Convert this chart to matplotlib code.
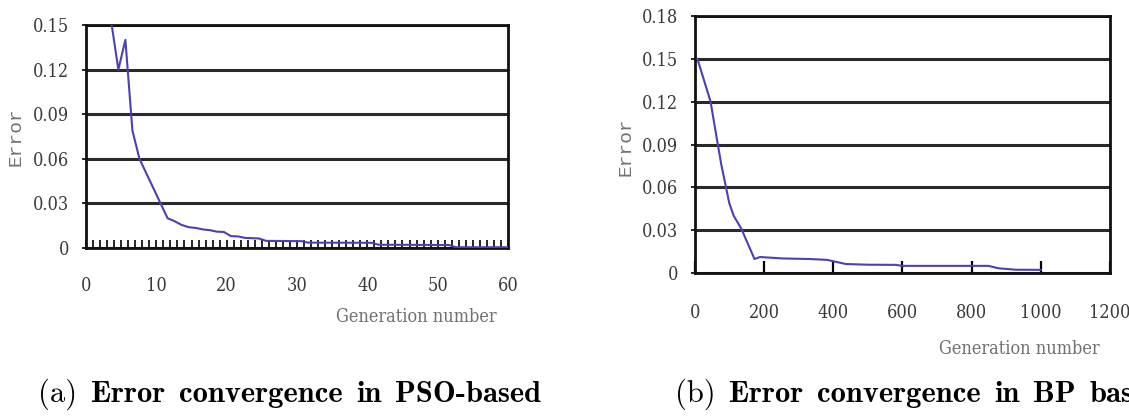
import matplotlib
matplotlib.use("Agg")
import matplotlib.pyplot as plt
from matplotlib.ticker import MultipleLocator

# ---- data ----
pso_gen = [3.5, 4.6, 5.6, 6.6, 7.6, 8.6, 9.6, 10.6, 11.6, 12.6, 13.6, 14.6, 15.6, 16.6,
           17.6, 18.6, 19.6, 20.6, 21.6, 22.6, 23.6, 24.6, 25.6, 30.6, 31.6, 40.6, 41.6,
           51.6, 52.6, 60.0]
pso_err = [0.155, 0.120, 0.140, 0.079, 0.060, 0.050, 0.040, 0.030, 0.020, 0.018, 0.0155,
           0.014, 0.0135, 0.0125, 0.012, 0.011, 0.0108, 0.008, 0.0078, 0.0068, 0.0066,
           0.0064, 0.0048, 0.0046, 0.0036, 0.0035, 0.0022, 0.0020, 0.0005, 0.0005]

bp_gen = [7, 45, 66, 76, 99, 112, 134, 172, 188, 253, 330, 382, 436, 500, 580, 600,
          848, 878, 928, 1000]
bp_err = [0.150, 0.120, 0.090, 0.076, 0.049, 0.040, 0.031, 0.0098, 0.0112, 0.0102,
          0.0098, 0.0092, 0.0063, 0.0058, 0.0057, 0.0050, 0.0050, 0.0033, 0.0023, 0.0022]

pso_yticks = [0, 0.03, 0.06, 0.09, 0.12, 0.15]
pso_ylabels = ["0", "0.03", "0.06", "0.09", "0.12", "0.15"]
pso_xticks = [0, 10, 20, 30, 40, 50, 60]
bp_yticks = [0, 0.03, 0.06, 0.09, 0.12, 0.15, 0.18]
bp_ylabels = ["0", "0.03", "0.06", "0.09", "0.12", "0.15", "0.18"]
bp_xticks = [0, 200, 400, 600, 800, 1000, 1200]

caption_a = ["(a)", "Error", "convergence", "in", "PSO-based"]
caption_b = ["(b)", "Error", "convergence", "in", "BP", "based"]
ylabel_text = "Error"
xlabel_text = "Generation number"

W, H = 1129, 416
fig = plt.figure(figsize=(W / 100, H / 100), dpi=100)

line_color = "#4a40b8"
tick_font = dict(family="DejaVu Serif", stretch="condensed", size=13, color="#3a3a3a")


def make_axes(rect, xs, ys, xlim, ylim, yticks, ylabels, xticks):
    ax = fig.add_axes(rect)
    ax.plot(xs, ys, color=line_color, lw=1.5, zorder=3)
    ax.set_xlim(*xlim)
    ax.set_ylim(*ylim)
    ax.set_yticks(yticks)
    ax.set_yticklabels(ylabels, **tick_font)
    ax.set_xticks(xticks)
    ax.set_xticklabels([str(t) for t in xticks], **tick_font)
    for s in ax.spines.values():
        s.set_linewidth(2)
        s.set_color("#111111")
    ax.yaxis.grid(True, color="#2a2a2a", lw=2.2)
    ax.set_axisbelow(True)
    ax.tick_params(axis="y", direction="out", length=3, width=1.2, pad=9)
    return ax


def px(x0, y0, x1, y1):
    return [x0 / W, 1 - y1 / H, (x1 - x0) / W, (y1 - y0) / H]


# left panel
axL = make_axes(px(86, 25, 508, 248), pso_gen, pso_err,
                (0, 60), (0, 0.15), pso_yticks, pso_ylabels, pso_xticks)
axL.xaxis.set_minor_locator(MultipleLocator(1))
axL.tick_params(axis="x", which="both", direction="in", length=6, width=1.2, pad=21)

# right panel
axR = make_axes(px(695, 16, 1110, 273), bp_gen, bp_err,
                (0, 1200), (0, 0.18), bp_yticks, bp_ylabels, bp_xticks)
axR.tick_params(axis="x", direction="in", length=9, width=1.6, pad=22)

# axis labels
fig.text(16 / W, 1 - 137 / H, ylabel_text, rotation=90, ha="center", va="center",
         fontsize=14, family="Liberation Mono", color="#707070")
fig.text(626 / W, 1 - 147 / H, ylabel_text, rotation=90, ha="center", va="center",
         fontsize=14, family="Liberation Mono", color="#707070")
lab_font = dict(family="DejaVu Serif", stretch="condensed", color="#707070")
fig.text(497 / W, 1 - 317 / H, xlabel_text, ha="right", va="center",
         fontsize=13, **lab_font)
fig.text(1100 / W, 1 - 349 / H, xlabel_text, ha="right", va="center",
         fontsize=13, **lab_font)

# captions (first line of a justified sub-caption): words placed one by one
fig.canvas.draw()
renderer = fig.canvas.get_renderer()
CAP_SIZE = 22
BASE_Y = 402


def word_widths(words):
    ws = []
    for i, w in enumerate(words):
        t = fig.text(0, 0, w, fontsize=CAP_SIZE, family="cmr10" if i == 0 else "cmb10")
        ws.append(t.get_window_extent(renderer).width)
        t.remove()
    return ws


wa = word_widths(caption_a)
wb = word_widths(caption_b)
gap = (395 - 38 - sum(wa[:4])) / 4
start_b = 1033 - (sum(wb[:4]) + 4 * gap)


def draw_caption(words, widths, x0):
    x = x0
    for i, (w, wd) in enumerate(zip(words, widths)):
        fig.text(x / W, 1 - BASE_Y / H, w, ha="left", va="baseline", fontsize=CAP_SIZE,
                 family="cmr10" if i == 0 else "cmb10")
        x += wd + gap


draw_caption(caption_a, wa, 38)
draw_caption(caption_b, wb, start_b)

fig.savefig("out.png", dpi=100)
